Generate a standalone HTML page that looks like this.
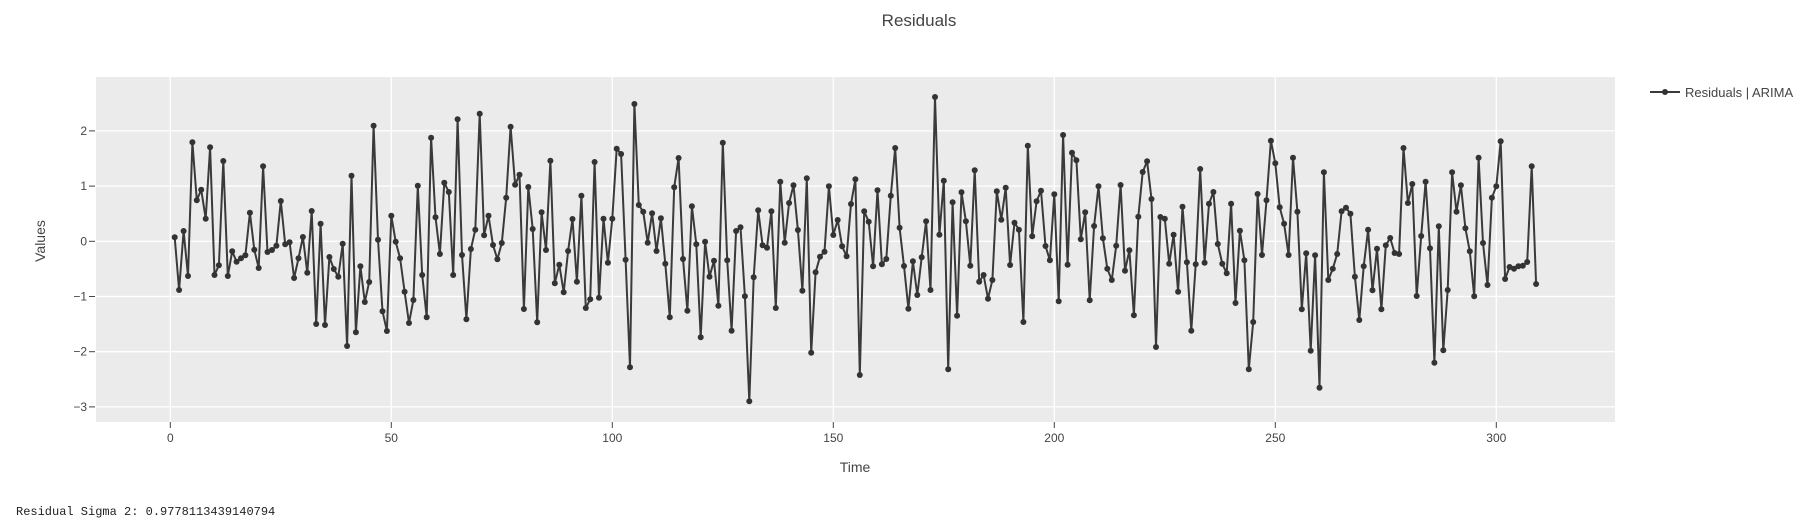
<!DOCTYPE html>
<html><head><meta charset="utf-8"><style>
body{margin:0;background:#fff;width:1804px;height:527px;overflow:hidden;font-family:"Liberation Sans",sans-serif}
</style></head><body>
<svg id="s" width="1804" height="527" xmlns="http://www.w3.org/2000/svg" style="position:absolute;left:0;top:0">
<rect x="96" y="77" width="1519" height="345" fill="#ebebeb"/>
<g id="grid" stroke="#fff" stroke-width="1.3"></g>
<g id="ticks" fill="#444" font-size="12" font-family="Liberation Sans, sans-serif"></g>
<text x="919" y="26" text-anchor="middle" font-size="17" fill="#444">Residuals</text>
<text x="855" y="472" text-anchor="middle" font-size="14" fill="#444">Time</text>
<text transform="translate(45,241) rotate(-90)" text-anchor="middle" font-size="14" fill="#444">Values</text>
<path id="ln" fill="none" stroke="#3a3a3a" stroke-width="2" stroke-linejoin="round"/>
<g id="mk" fill="#333"></g>
<line x1="1650" y1="92" x2="1680" y2="92" stroke="#3a3a3a" stroke-width="2"/>
<circle cx="1665" cy="92" r="3" fill="#333"/>
<text x="1685" y="97" font-size="13" fill="#444">Residuals | ARIMA</text>
<text x="16" y="515" font-size="12" fill="#222" font-family="Liberation Mono, monospace">Residual Sigma 2: 0.9778113439140794</text>
</svg>
<script>
var zy=[472,630,453,588,187,361,329,416,202,585,556,243,588,514,545,535,526,398,509,564,259,516,510,497,363,493,487,594,535,471,578,393,732,431,735,531,567,590,491,798,287,757,559,666,606,137,479,694,753,407,485,535,
635,729,660,317,585,712,173,412,522,308,336,585,118,525,718,507,449,101,466,407,495,538,489,353,140,314,284,687,321,447,727,397,510,242,610,554,637,513,417,605,347,684,658,246,653,416,548,416,206,222,539,862,
72,375,395,488,400,513,415,551,712,322,234,537,692,379,493,772,485,590,542,677,188,541,752,453,442,649,964,592,391,496,503,394,684,305,488,369,316,450,632,295,818,577,530,515,319,465,420,499,529,372,298,885,
394,425,559,331,553,537,347,204,443,558,686,544,645,532,424,630,51,464,302,868,367,707,337,424,557,271,605,585,656,600,334,419,323,555,428,449,726,197,469,364,332,498,541,343,664,165,554,218,241,478,397,661,
438,319,475,566,600,497,315,572,511,706,410,276,244,357,801,411,416,551,464,635,380,547,752,553,267,548,371,336,492,551,580,371,669,452,541,868,726,342,525,361,182,250,382,431,525,233,395,688,520,812,526,923,
277,600,566,522,394,383,401,590,720,559,449,631,506,688,496,474,519,522,204,369,312,648,468,305,505,848,439,811,630,277,395,316,445,514,649,233,489,615,353,319,184,597,561,566,559,557,546,259,612];
var NS="http://www.w3.org/2000/svg";
function el(p,t,a,txt){var e=document.createElementNS(NS,t);for(var k in a)e.setAttribute(k,a[k]);if(txt!=null)e.textContent=txt;document.getElementById(p).appendChild(e);}
var d="";
for(var i=0;i<zy.length;i++){var x=170.3+4.42*(i+1),y=80+zy[i]/3;d+=(i?"L":"M")+x.toFixed(1)+" "+y.toFixed(1);el("mk","circle",{cx:x.toFixed(1),cy:y.toFixed(1),r:3});}
document.getElementById("ln").setAttribute("d",d);
for(var v=0;v<=300;v+=50){var x=170.3+4.42*v;el("grid","line",{x1:x,y1:77,x2:x,y2:422});
el("ticks","line",{x1:x,y1:422,x2:x,y2:428,stroke:"#444","stroke-width":1});
el("ticks","text",{x:x,y:442,"text-anchor":"middle"},""+v);}
for(var v=-3;v<=2;v++){var y=241.3-55.2*v;el("grid","line",{x1:96,y1:y,x2:1615,y2:y});
el("ticks","line",{x1:89,y1:y,x2:95,y2:y,stroke:"#444","stroke-width":1});
el("ticks","text",{x:87,y:y+4,"text-anchor":"end"},(v<0?"\u2212"+(-v):""+v));}
</script>
</body></html>
